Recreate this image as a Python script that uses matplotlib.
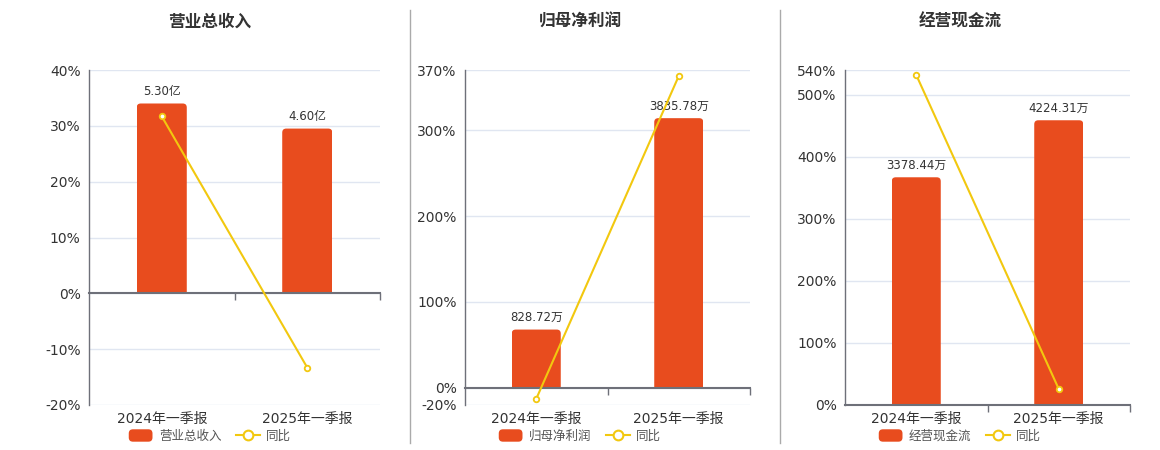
import matplotlib
matplotlib.use('Agg')
import matplotlib.pyplot as plt
from matplotlib.patches import FancyBboxPatch, Rectangle, Patch
from matplotlib.lines import Line2D
from matplotlib.legend_handler import HandlerPatch

plt.rcParams['font.family'] = ['DejaVu Sans', 'Noto Sans CJK SC']

categories = ['2024年一季报', '2025年一季报']

titles = ['营业总收入', '归母净利润', '经营现金流']
units = ['亿', '万', '万']

revenue = [5.30, 4.60]
revenue_yoy = [31.7, -13.3]

net_profit = [828.72, 3835.78]
net_profit_yoy = [-12.8, 363.0]

cash_flow = [3378.44, 4224.31]
cash_flow_yoy = [532.0, 25.8]

bar_values = [revenue, net_profit, cash_flow]
yoy_values = [revenue_yoy, net_profit_yoy, cash_flow_yoy]

pct_ticks = [
    [-20, -10, 0, 10, 20, 30, 40],
    [-20, 0, 100, 200, 300, 370],
    [0, 100, 200, 300, 400, 500, 540],
]
# value of the (hidden) bar axis at the top of the percent axis
bar_axis_top = [6.235, 4521, 4970]

BAR = '#E84C1E'
LINE = '#F2C80F'
GRID = '#E0E6F1'
AXIS = '#6E7079'
TEXT = '#333333'

fig = plt.figure(figsize=(11.6, 4.5), dpi=100)
W, H = 1160, 450

rects = [(89, 291), (465, 285), (845, 285)]
centers = [210, 580, 960]
top_px, bottom_px = 70, 405


def rounded_bar(ax, x, h, w, color, r_px=4):
    p0 = ax.transData.transform((0, 0))
    p1 = ax.transData.transform((1, 1))
    sx = p1[0] - p0[0]
    sy = p1[1] - p0[1]
    rx = r_px / sx
    ry = r_px / sy
    patch = FancyBboxPatch((x - w / 2, -ry), w, h + ry,
                           boxstyle=f'round,pad=0,rounding_size={rx}',
                           mutation_aspect=sx / sy,
                           facecolor=color, edgecolor='none', zorder=1)
    ax.add_patch(patch)
    clip = Rectangle((x - w / 2, 0), w, h + ry, transform=ax.transData)
    patch.set_clip_path(clip)


def legend_box(legend, orig_handle, xdescent, ydescent, width, height, fontsize):
    return FancyBboxPatch((-xdescent, -ydescent), width, height,
                          boxstyle='round,pad=0,rounding_size=3')


for k in range(3):
    left, width = rects[k]
    pos = [left / W, (H - bottom_px) / H, width / W, (bottom_px - top_px) / H]
    ticks = pct_ticks[k]
    lo, hi = ticks[0], ticks[-1]

    ax = fig.add_axes(pos)
    ax.set_xlim(-0.5, 1.5)
    ax.set_ylim(lo, hi)
    ax.set_yticks(ticks)
    ax.set_yticklabels([f'{t}%' for t in ticks])
    ax.set_xticks(range(len(categories)))
    ax.set_xticklabels(categories)
    ax.tick_params(axis='both', length=0, labelsize=10, colors=TEXT, pad=6)
    ax.tick_params(axis='x', pad=5)
    ax.grid(axis='y', color=GRID, linewidth=1)
    ax.set_axisbelow(True)
    for s in ['top', 'right', 'bottom']:
        ax.spines[s].set_visible(False)
    ax.spines['left'].set_color(AXIS)
    ax.spines['left'].set_linewidth(1)

    axb = fig.add_axes(pos)
    axb.patch.set_visible(False)
    axb.set_xlim(-0.5, 1.5)
    top = bar_axis_top[k]
    axb.set_ylim(lo / hi * top, top)
    axb.set_yticks([])
    for s in ['top', 'right', 'left']:
        axb.spines[s].set_visible(False)
    axb.spines['bottom'].set_position(('data', 0))
    axb.spines['bottom'].set_color(AXIS)
    axb.spines['bottom'].set_linewidth(1.5)
    axb.set_xticks([0.5, 1.5])
    axb.tick_params(axis='x', length=5, direction='out', color=AXIS,
                    labelbottom=False, width=1)

    for i, v in enumerate(bar_values[k]):
        rounded_bar(axb, i, v, 0.344, BAR)
        axb.annotate(f'{v:.2f}{units[k]}', (i, v), xytext=(0, 4),
                     textcoords='offset points', ha='center', va='bottom',
                     fontsize=8.5, color=TEXT)

    axb.plot(range(len(categories)), yoy_values[k], color=LINE, linewidth=1.5,
             marker='o', markersize=4, markerfacecolor='white',
             markeredgecolor=LINE, markeredgewidth=1.3,
             transform=ax.transData, zorder=4, clip_on=False)

    fig.text(centers[k] / W, 1 - 22 / H, titles[k], ha='center', va='center',
             fontsize=12, fontweight='bold', color=TEXT)

    bar_handle = Patch(facecolor=BAR, edgecolor='none', label=titles[k])
    handles = [
        bar_handle,
        Line2D([], [], color=LINE, linewidth=1.5, marker='o', markersize=7,
               markerfacecolor='white', markeredgecolor=LINE,
               markeredgewidth=1.5, label='同比'),
    ]
    fig.legend(handles=handles, loc='center', ncol=2,
               bbox_to_anchor=(centers[k] / W, 14 / H), frameon=False,
               fontsize=9, handlelength=1.9, handleheight=1.15,
               columnspacing=1.2, handletextpad=0.5, labelcolor='#555555',
               handler_map={bar_handle: HandlerPatch(patch_func=legend_box)})

for xs in [410, 780]:
    fig.add_artist(Line2D([xs / W, xs / W], [(H - 443) / H, (H - 10) / H],
                          color='#AAAAAA', linewidth=1))

fig.savefig('out.png', dpi=100)
